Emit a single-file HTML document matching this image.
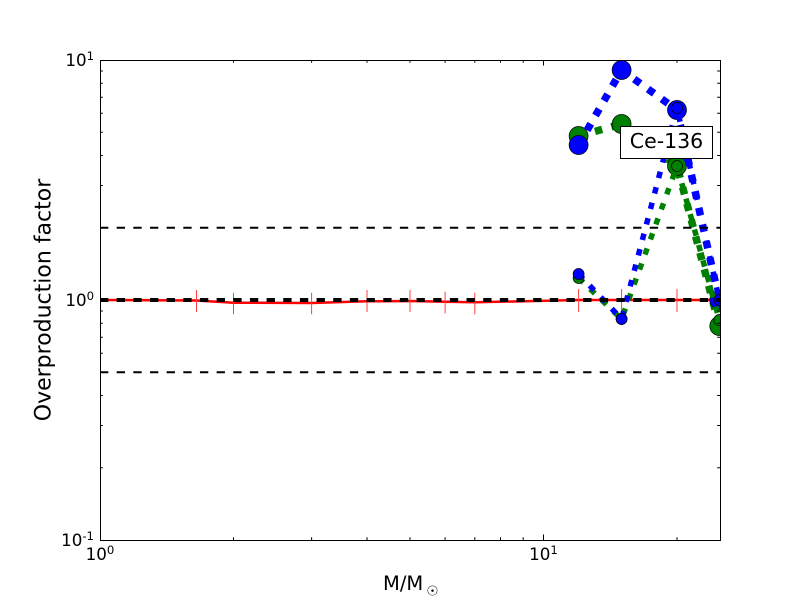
<!DOCTYPE html>
<html>
<head>
<meta charset="utf-8">
<style>
  html, body { margin: 0; padding: 0; background: #ffffff; }
  svg { display: block; }
  text { font-family: "DejaVu Sans", "Liberation Sans", sans-serif; fill: #000; }
</style>
</head>
<body>
<svg width="800" height="600" viewBox="0 0 800 600" xmlns="http://www.w3.org/2000/svg">
  <rect x="0" y="0" width="800" height="600" fill="#ffffff"/>
  <defs>
    <clipPath id="ax">
      <rect x="100" y="60" width="620.5" height="480"/>
    </clipPath>
  </defs>

  <g clip-path="url(#ax)">
    <!-- red line -->
    <path d="M100,300 L196.5,300.5 L233.5,302.7 L311.6,303 L367,301.3 L410,301 L445.1,301.7 L474.8,302.3 L578.6,300 L621.6,300 L677,300 L719.3,300"
          fill="none" stroke="#ff0000" stroke-width="2.5" stroke-linejoin="round"/>
    <!-- error bars -->
    <g stroke="#ff4040" stroke-width="1">
      <line x1="196.5" y1="290" x2="196.5" y2="312"/>
      <line x1="233.5" y1="292.7" x2="233.5" y2="314.3"/>
      <line x1="311.6" y1="292.7" x2="311.6" y2="314.3"/>
      <line x1="367" y1="290" x2="367" y2="312"/>
      <line x1="410" y1="290" x2="410" y2="312"/>
      <line x1="445.1" y1="291.7" x2="445.1" y2="313.3"/>
      <line x1="474.8" y1="292.7" x2="474.8" y2="314.3"/>
      <line x1="578.6" y1="289" x2="578.6" y2="312"/>
      <line x1="621.6" y1="289" x2="621.6" y2="312"/>
      <line x1="677" y1="289" x2="677" y2="312"/>
      <line x1="719.3" y1="289" x2="719.3" y2="312"/>
    </g>

    <!-- green thick -->
    <path d="M578.6,136 L621.6,124 L677,166 L719.3,326" fill="none" stroke="#008000" stroke-width="7.5" stroke-dasharray="7.5 9.5"/>
    <g fill="#008000" stroke="#000" stroke-width="0.7">
      <circle cx="578.6" cy="136" r="9.5"/>
      <circle cx="621.6" cy="124" r="9.5"/>
      <circle cx="677" cy="166" r="9.5"/>
      <circle cx="719.3" cy="326" r="9.5"/>
    </g>
    <!-- blue thick -->
    <path d="M578.6,145 L621.6,70 L677,110 L719.3,300" fill="none" stroke="#0000ff" stroke-width="7.5" stroke-dasharray="7.5 9.5"/>
    <g fill="#0000ff" stroke="#000" stroke-width="0.7">
      <circle cx="578.6" cy="145" r="9.5"/>
      <circle cx="621.6" cy="70" r="9.5"/>
      <circle cx="677" cy="110" r="9.5"/>
      <circle cx="719.3" cy="300" r="9.5"/>
    </g>
    <!-- green thin -->
    <path d="M578.6,278 L621.6,319 L677,166 L719.3,320" fill="none" stroke="#008000" stroke-width="5.5" stroke-dasharray="6.5 9.5"/>
    <g fill="#008000" stroke="#000" stroke-width="0.7">
      <circle cx="578.6" cy="278" r="5.5"/>
      <circle cx="621.6" cy="319" r="5.5"/>
      <circle cx="677" cy="166" r="5.5"/>
      <circle cx="719.3" cy="320" r="5.5"/>
    </g>
    <!-- blue thin -->
    <path d="M578.6,274 L621.6,319 L677,108 L719.3,300" fill="none" stroke="#0000ff" stroke-width="5.5" stroke-dasharray="6.5 9.5"/>
    <g fill="#0000ff" stroke="#000" stroke-width="0.7">
      <circle cx="578.6" cy="274" r="5.5"/>
      <circle cx="621.6" cy="319" r="5.5"/>
      <circle cx="677" cy="108" r="5.5"/>
      <circle cx="719.3" cy="300" r="5.5"/>
    </g>

    <!-- horizontal dashed lines -->
    <line x1="100" y1="300" x2="720" y2="300" stroke="#000" stroke-width="4" stroke-dasharray="8.33 8.33"/>
    <line x1="100" y1="227.8" x2="720" y2="227.8" stroke="#000" stroke-width="2" stroke-dasharray="8.33 8.33"/>
    <line x1="100" y1="372.2" x2="720" y2="372.2" stroke="#000" stroke-width="2" stroke-dasharray="8.33 8.33"/>
  </g>

  <!-- label box -->
  <rect x="620.5" y="126.5" width="92" height="32" fill="#ffffff" stroke="#000" stroke-width="1"/>
  <text x="666.5" y="148" text-anchor="middle" font-size="20.5">Ce-136</text>

  <!-- ticks -->
  <g stroke="#000" stroke-width="1" fill="none">
    <path d="M543.5,540 V534.5 M543.5,60 V65.5"/>
    <path d="M233.5,540 V537.2 M311.6,540 V537.2 M367,540 V537.2 M410,540 V537.2 M445.1,540 V537.2 M474.8,540 V537.2 M500.5,540 V537.2 M523.2,540 V537.2 M677,540 V537.2
             M233.5,60 V62.8 M311.6,60 V62.8 M367,60 V62.8 M410,60 V62.8 M445.1,60 V62.8 M474.8,60 V62.8 M500.5,60 V62.8 M523.2,60 V62.8 M677,60 V62.8"/>
    <path d="M100,300 H105.5 M720,300 H714.5"/>
    <path d="M100,467.8 H102.8 M100,425.5 H102.8 M100,395.5 H102.8 M100,372.2 H102.8 M100,353.2 H102.8 M100,337.2 H102.8 M100,323.3 H102.8 M100,311 H102.8
             M100,227.8 H102.8 M100,185.5 H102.8 M100,155.5 H102.8 M100,132.2 H102.8 M100,113.2 H102.8 M100,97.2 H102.8 M100,83.3 H102.8 M100,71 H102.8"/>
    <path d="M720,467.8 H717.2 M720,425.5 H717.2 M720,395.5 H717.2 M720,372.2 H717.2 M720,353.2 H717.2 M720,337.2 H717.2 M720,323.3 H717.2 M720,311 H717.2
             M720,227.8 H717.2 M720,185.5 H717.2 M720,155.5 H717.2 M720,132.2 H717.2 M720,113.2 H717.2 M720,97.2 H717.2 M720,83.3 H717.2 M720,71 H717.2"/>
  </g>

  <!-- axes frame -->
  <rect x="100.5" y="60.5" width="620" height="480" fill="none" stroke="#000" stroke-width="1"/>

  <!-- y tick labels -->
  <text x="94" y="66" text-anchor="end" font-size="16.7">10<tspan font-size="11.7" dy="-6">1</tspan></text>
  <text x="94" y="306" text-anchor="end" font-size="16.7">10<tspan font-size="11.7" dy="-6">0</tspan></text>
  <text x="94" y="546" text-anchor="end" font-size="16.7">10<tspan font-size="11.7" dy="-6">-1</tspan></text>

  <!-- x tick labels -->
  <text x="100" y="560" text-anchor="middle" font-size="16.7">10<tspan font-size="11.7" dy="-6">0</tspan></text>
  <text x="543.5" y="560" text-anchor="middle" font-size="16.7">10<tspan font-size="11.7" dy="-6">1</tspan></text>

  <!-- axis labels -->
  <text x="383" y="590" font-size="19.5">M/M</text>
  <text x="432.5" y="595.5" text-anchor="middle" font-size="13.6">☉</text>
  <text transform="translate(50.5,300) rotate(-90)" x="0" y="0" text-anchor="middle" font-size="22">Overproduction factor</text>
</svg>
</body>
</html>
